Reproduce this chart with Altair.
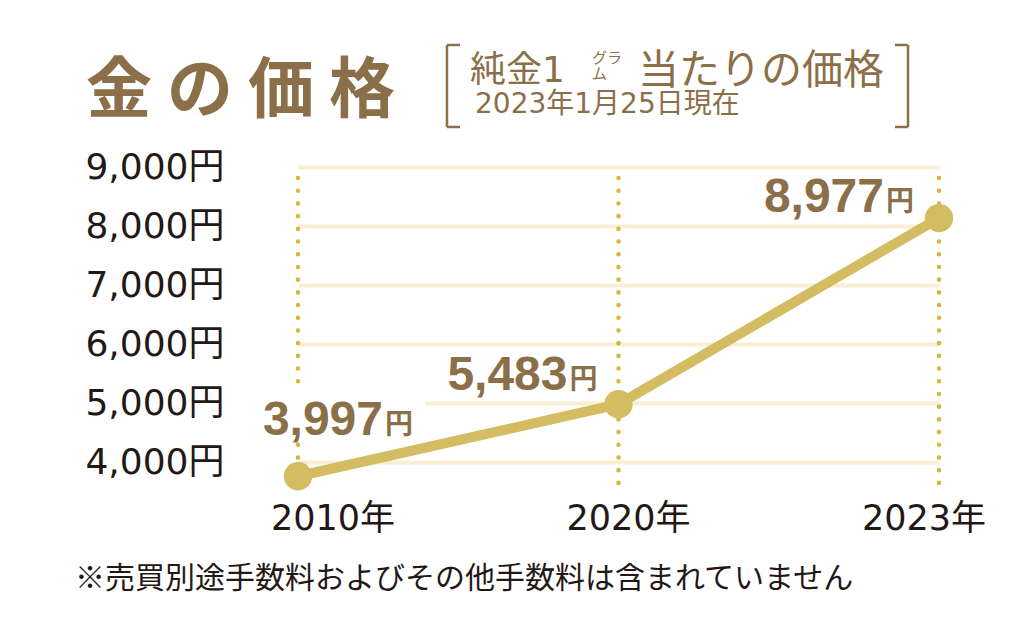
import altair as alt
import pandas as pd

# ---- data ----
years = ["2010年", "2020年", "2023年"]
prices = [3997, 5483, 8977]            # label values (円 / g)
drawn = [3765, 4985, 8135]             # heights at which the points are drawn
y_ticks = [4000, 5000, 6000, 7000, 8000, 9000]

title_text = "金 の 価 格"
sub_main_a = "純金1"
sub_unit_top = "グラ"
sub_unit_bottom = "ム"
sub_main_b = "当たりの価格"
sub_date = "2023年1月25日現在"
footnote = "※売買別途手数料およびその他手数料は含まれていません"
unit = "円"

df = pd.DataFrame({"year": years, "price": prices, "pos": drawn})

BROWN = "#8b6f48"
LINE = "#d3bc62"
DOT = "#dab53c"
GRID = "#f7eed3"
DARK = "#231815"
JP = "Noto Sans CJK JP"
LAT = "DejaVu Sans, " + JP

W, H = 703, 319


def X(rng=(59, 700)):
    return alt.X("year:N", sort=years,
                 scale=alt.Scale(type="point", domain=years, range=list(rng), padding=0),
                 axis=None)


yaxis = alt.Axis(values=y_ticks, labelExpr="format(datum.value, ',') + '円'",
                 grid=True, gridColor=GRID, gridWidth=4, domain=False, ticks=False,
                 labelPadding=15, labelFont=LAT, labelFontSize=36,
                 labelColor=DARK, labelFlush=False, labelOverlap=False, title=None)
Y = alt.Y("pos:Q", scale=alt.Scale(domain=[3600, 9000], nice=False, zero=False), axis=yaxis)

base = alt.Chart(df)
one = alt.Data(values=[{}])

rules = base.mark_rule(color=DOT, strokeWidth=4.5, strokeDash=[0.1, 12.6], strokeCap="round").encode(
    x=X(), y=alt.value(11), y2=alt.value(318))

# white backing behind the 2010 label
backing = alt.Chart(one).mark_rect(color="white").encode(
    x=alt.value(0), x2=alt.value(186), y=alt.value(218), y2=alt.value(272))

line = base.mark_line(color=LINE, strokeWidth=10).encode(x=X(), y=Y)
points = base.mark_circle(color=LINE, size=804, opacity=1).encode(x=X(), y=Y)

label_layers = []
offsets = {"2010年": (85, -41), "2020年": (-51, -14), "2023年": (-55, -6)}
for yr in years:
    dx, dy = offsets[yr]
    f = base.transform_filter(alt.datum.year == yr).transform_calculate(
        txt="format(datum.price, ',')")
    label_layers.append(
        f.mark_text(align="right", baseline="alphabetic", dx=dx, dy=dy,
                    font="Liberation Sans", fontWeight="bold", fontSize=48, color=BROWN)
        .encode(x=X(), y=Y, text="txt:N"))
    label_layers.append(
        f.mark_text(align="left", baseline="alphabetic", dx=dx + 2, dy=dy - 1,
                    font=JP, fontWeight="bold", fontSize=28, color=BROWN)
        .encode(x=X(), y=Y, text=alt.value(unit)))

xlabels = base.mark_text(baseline="alphabetic", font=LAT, fontSize=35,
                         color=DARK).encode(x=X((94, 685)), y=alt.value(363), text="year:N")


def txt(s, x, y, size, weight="normal", color=BROWN, font=JP):
    return alt.Chart(one).mark_text(align="left", baseline="alphabetic", font=font,
                                    fontSize=size, fontWeight=weight, color=color).encode(
        x=alt.value(x), y=alt.value(y), text=alt.value(s))


def seg(x, y, x2=None, y2=None):
    enc = dict(x=alt.value(x), y=alt.value(y))
    if x2 is not None:
        enc["x2"] = alt.value(x2)
    if y2 is not None:
        enc["y2"] = alt.value(y2)
    return alt.Chart(one).mark_rule(color=BROWN, strokeWidth=2.5).encode(**enc)


texts = [
    txt(title_text, -153, -55, 66, "bold"),
    txt(sub_main_a, 231, -85, 36, "normal", font=LAT),
    txt(sub_unit_top, 353, -104, 15),
    txt(sub_unit_bottom, 353, -88, 15),
    txt(sub_main_b, 399, -83, 41),
    txt(sub_date, 236, -54, 28, "normal", font=LAT),
    txt(footnote, -164, 421, 30, "normal", DARK),
]

brackets = [
    seg(208, -122, y2=-40), seg(208, -122, x2=221), seg(208, -40, x2=221),
    seg(669, -122, y2=-40), seg(656, -122, x2=669), seg(656, -40, x2=669),
]

chart = alt.layer(
    rules, backing, line, points, *label_layers, xlabels, *texts, *brackets
).resolve_scale(x="independent").properties(
    width=W, height=H,
    autosize=alt.AutoSizeParams(type="none"),
    padding={"left": 231, "top": 159, "right": 70, "bottom": 130},
    background="white",
).configure_view(stroke=None)

chart.save("out.html", embed_options={"renderer": "svg", "actions": False})
